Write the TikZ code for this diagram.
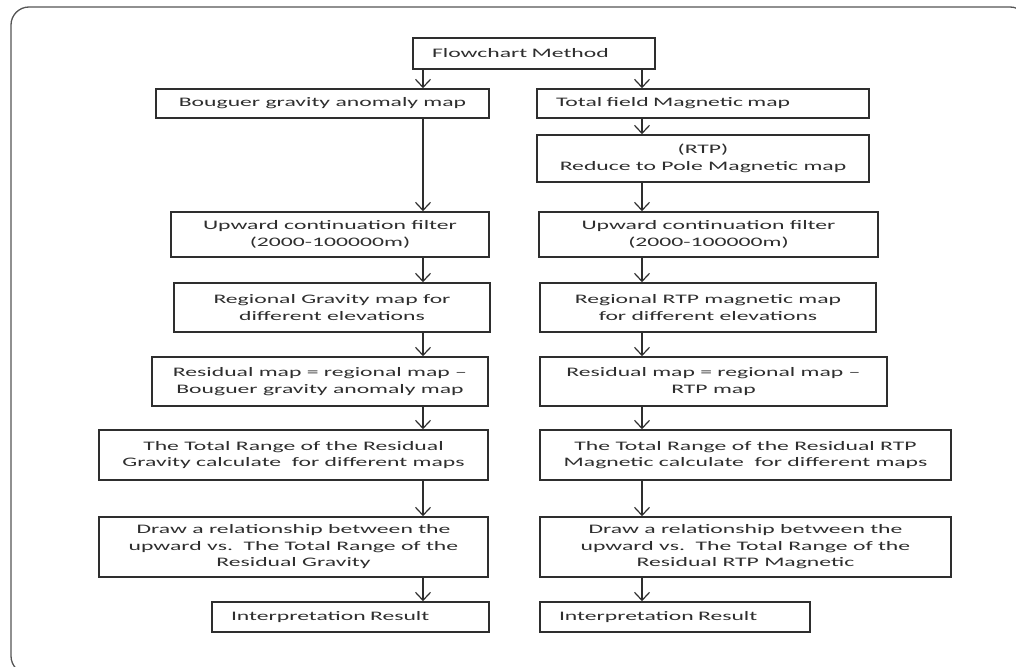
\documentclass[tikz,border=0pt]{standalone}
\usepackage{fontspec}
\setmainfont{Carlito}[FakeStretch=1.82]
\usetikzlibrary{arrows.meta}
\definecolor{ink}{HTML}{2E2E2E}
\definecolor{framec}{HTML}{555555}
\tikzset{
  box/.style={draw=ink, line width=1.6pt, fill=white, inner sep=0pt, align=center, text=ink,
    font=\fontsize{13pt}{16.5pt}\selectfont},
  lbox/.style={box, align=left, inner xsep=19pt},
  arr/.style={draw=ink, line width=1.2pt, -{Straight Barb[length=8pt,width=15pt,line width=1.2pt]}},
}
\begin{document}
\begin{tikzpicture}[x=1pt,y=-1pt]
\useasboundingbox (0,0) rectangle (1016,666);
\begin{scope}
  \clip (0,0) rectangle (1016,666);
  \draw[framec, line width=1.3pt, rounded corners=18pt] (11,7) rectangle (1028,674);
\end{scope}
\coordinate (colL) at (423,0);
\coordinate (colR) at (642,0);

\node[lbox, minimum width=242pt, minimum height=31pt, text width=204pt] (fm) at (534,53.5) {Flowchart Method};

\node[box, minimum width=333pt, minimum height=29pt] (bg) at (322.5,103.5) {Bouguer gravity anomaly map};
\node[lbox, minimum width=332pt, minimum height=29pt, text width=294pt] (tf) at (703,103.5) {Total field Magnetic map};
\node[box, minimum width=332pt, minimum height=47pt] (rtp) at (703,158.5) {(RTP)\\Reduce to Pole Magnetic map};

\node[box, minimum width=318pt, minimum height=45pt] (upL) at (330,234.5) {Upward continuation filter\\(2000-100000m)};
\node[box, minimum width=339pt, minimum height=45pt] (upR) at (708.5,234.5) {Upward continuation filter\\(2000-100000m)};

\node[box, minimum width=316pt, minimum height=49pt] (rgL) at (332,307.5) {Regional Gravity map for\\different elevations};
\node[box, minimum width=336pt, minimum height=49pt] (rgR) at (708,307.5) {Regional RTP magnetic map\\for different elevations};

\node[box, minimum width=336pt, minimum height=49pt] (rsL) at (320,381.5) {Residual map = regional map –\\Bouguer gravity anomaly map};
\node[box, minimum width=347pt, minimum height=49pt] (rsR) at (713.5,381.5) {Residual map = regional map –\\RTP map};

\node[box, minimum width=389pt, minimum height=50pt] (trL) at (293.5,455) {The Total Range of the Residual\\Gravity calculate\ \ for different maps};
\node[box, minimum width=411pt, minimum height=50pt] (trR) at (745.5,455) {The Total Range of the Residual RTP\\Magnetic calculate\ \ for different maps};

\node[box, minimum width=389pt, minimum height=60pt] (drL) at (293.5,547) {Draw a relationship between the\\upward vs.\ \ The Total Range of the\\Residual Gravity};
\node[box, minimum width=411pt, minimum height=60pt] (drR) at (745.5,547) {Draw a relationship between the\\upward vs.\ \ The Total Range of the\\Residual RTP Magnetic};

\node[lbox, minimum width=277pt, minimum height=30pt, text width=239pt] (inL) at (350.5,617) {Interpretation Result};
\node[lbox, minimum width=270pt, minimum height=30pt, text width=232pt] (inR) at (675,617) {Interpretation Result};

\draw[arr] (fm.south -| colL) -- (bg.north -| colL);
\draw[arr] (fm.south -| colR) -- (tf.north -| colR);
\draw[arr] (bg.south -| colL) -- (upL.north -| colL);
\draw[arr] (tf.south -| colR) -- (rtp.north -| colR);
\draw[arr] (rtp.south -| colR) -- (upR.north -| colR);
\draw[arr] (upL.south -| colL) -- (rgL.north -| colL);
\draw[arr] (upR.south -| colR) -- (rgR.north -| colR);
\draw[arr] (rgL.south -| colL) -- (rsL.north -| colL);
\draw[arr] (rgR.south -| colR) -- (rsR.north -| colR);
\draw[arr] (rsL.south -| colL) -- (trL.north -| colL);
\draw[arr] (rsR.south -| colR) -- (trR.north -| colR);
\draw[arr] (trL.south -| colL) -- (drL.north -| colL);
\draw[arr] (trR.south -| colR) -- (drR.north -| colR);
\draw[arr] (drL.south -| colL) -- (inL.north -| colL);
\draw[arr] (drR.south -| colR) -- (inR.north -| colR);
\end{tikzpicture}
\end{document}
